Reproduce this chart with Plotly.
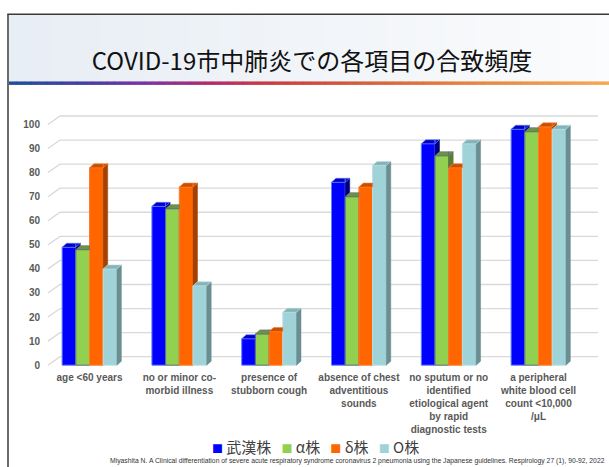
import html
import plotly.graph_objects as go

# ---------------- data ----------------
category_lines = [
    ["age <60 years"],
    ["no or minor co-", "morbid illness"],
    ["presence of", "stubborn cough"],
    ["absence of chest", "adventitious", "sounds"],
    ["no sputum or no", "identified", "etiological agent", "by rapid", "diagnostic tests"],
    ["a peripheral", "white blood cell", "count <10,000", "/μL"],
]
series_names = ["武漢株", "α株", "δ株", "O株"]
wuhan = [49, 66, 11, 76, 92, 98]
alpha = [48, 65, 13, 70, 87, 97]
delta = [82, 74, 14, 74, 82, 99]
omicron = [40, 33, 22, 83, 92, 98]
y_ticks = [0, 10, 20, 30, 40, 50, 60, 70, 80, 90, 100]

title_text = "COVID-19市中肺炎での各項目の合致頻度"
citation = ("Miyashita N. A Clinical differentiation of severe acute respiratory syndrome "
            "coronavirus 2 pneumonia using the Japanese guidelines. Respirology 27 (1), 90-92, 2022")

# ---------------- style ----------------
values = [wuhan, alpha, delta, omicron]
front_colors = ["#0000ff", "#92d050", "#ff6600", "#9fd3d8"]
outline_colors = ["#6080ff", "#5c6a80", "#ff7a2a", "#b8e0e4"]
side_colors = ["#00007c", "#5c7d32", "#a44100", "#6a8e92"]
top_colors = ["#0000c8", "#6e9340", "#c95000", "#86b3b8"]

W, H = 609, 467
L, R, T, B = 44, 9, 109.5, 96.5
PW, PH = W - L - R, H - T - B
X_PX0, X_STEP = 89.5, 89.8          # pixel of category 0 and spacing
xr_lo = (L - X_PX0) / X_STEP
xr_hi = (W - R - X_PX0) / X_STEP
y_lo, y_hi = -2, 106
px_per_unit = PH / (y_hi - y_lo)

bargap = 0.39
bw = (1 - bargap) / 4
ddx = 4.5 / X_STEP                   # bar depth
ddy = 4.0 / px_per_unit
wdx = 12 / X_STEP                    # wall depth
wdy = 8.5 / px_per_unit
wall_x0 = (48 - X_PX0) / X_STEP
wall_x1 = (598 - X_PX0) / X_STEP


def pxx(px):
    return (px - L) / PW


def pxy(py):
    return (H - B - py) / PH


def clip(poly, a, b, c):
    out = []
    n = len(poly)
    for k in range(n):
        P, Q = poly[k], poly[(k + 1) % n]
        fp = a * P[0] + b * P[1] + c
        fq = a * Q[0] + b * Q[1] + c
        if fp >= 0:
            out.append(P)
        if (fp >= 0) != (fq >= 0):
            t = fp / (fp - fq)
            out.append((P[0] + t * (Q[0] - P[0]), P[1] + t * (Q[1] - P[1])))
    return out


def add_polys(xs, ys, poly):
    if len(poly) >= 3:
        for p in poly:
            xs.append(p[0])
            ys.append(p[1])
        xs.append(poly[0][0])
        ys.append(poly[0][1])
        xs.append(None)
        ys.append(None)


fig = go.Figure()
n_cat = len(category_lines)

for j, vals in enumerate(values):
    sx, sy, tx, ty = [], [], [], []
    for i in range(n_cat):
        v = vals[i]
        xl = i + (j - 2) * bw
        xr = xl + bw
        side = [(xr, 0), (xr + ddx, ddy), (xr + ddx, v + ddy), (xr, v)]
        top = [(xl, v), (xl + ddx, v + ddy), (xr + ddx, v + ddy), (xr, v)]
        if j < len(values) - 1:
            vn = values[j + 1][i]
            a, b, c = -ddy / ddx, 1.0, -vn + xr * ddy / ddx
            add_polys(sx, sy, clip(side, a, b, c))
            add_polys(tx, ty, clip(top, -1, 0, xr))
            add_polys(tx, ty, clip(clip(top, 1, 0, -xr), a, b, c))
        else:
            add_polys(sx, sy, side)
            add_polys(tx, ty, top)
    fig.add_trace(go.Scatter(x=sx, y=sy, mode="lines", fill="toself",
                             fillcolor=side_colors[j], line=dict(color=side_colors[j], width=0.5),
                             hoverinfo="skip", showlegend=False))
    fig.add_trace(go.Scatter(x=tx, y=ty, mode="lines", fill="toself",
                             fillcolor=top_colors[j], line=dict(color=outline_colors[j], width=0.6),
                             hoverinfo="skip", showlegend=False))
    fig.add_trace(go.Bar(x=list(range(n_cat)), y=vals, name=series_names[j],
                         marker=dict(color=front_colors[j],
                                     line=dict(color=outline_colors[j], width=1)),
                         showlegend=False))

shapes = []
# gridlines on the back wall
for t in y_ticks:
    shapes.append(dict(type="path", xref="x", yref="y", layer="below",
                       path=f"M {wall_x0},{t} L {wall_x0 + wdx},{t + wdy} L {wall_x1},{t + wdy}",
                       line=dict(color="#d9d9d9", width=1.3)))

# title band gradient
n_strip = 40
bx0, bx1 = 9, 612
for k in range(n_strip):
    f = k / (n_strip - 1)
    r = int(232 + (251 - 232) * f)
    g = int(238 + (252 - 238) * f)
    bb = int(245 + (253 - 245) * f)
    x0 = bx0 + (bx1 - bx0) * k / n_strip
    x1 = bx0 + (bx1 - bx0) * (k + 1) / n_strip + 0.5
    shapes.append(dict(type="rect", xref="paper", yref="paper", layer="below",
                       x0=pxx(x0), x1=pxx(x1), y0=pxy(80.5), y1=pxy(14),
                       fillcolor=f"rgb({r},{g},{bb})", line=dict(width=0)))

# colored rule under title
stops = [(0.0, (30, 78, 156)), (0.12, (70, 62, 165)), (0.22, (120, 52, 165)),
         (0.33, (175, 45, 110)), (0.43, (200, 60, 70)), (0.58, (210, 95, 60)),
         (0.78, (232, 135, 65)), (1.0, (246, 168, 85))]


def grad(f):
    for (f0, c0), (f1, c1) in zip(stops[:-1], stops[1:]):
        if f0 <= f <= f1:
            u = (f - f0) / (f1 - f0)
            return tuple(int(c0[m] + (c1[m] - c0[m]) * u) for m in range(3))
    return stops[-1][1]


n_rule = 80
for k in range(n_rule):
    f = k / (n_rule - 1)
    c = grad(f)
    x0 = bx0 + (bx1 - bx0) * k / n_rule
    x1 = bx0 + (bx1 - bx0) * (k + 1) / n_rule + 0.5
    shapes.append(dict(type="rect", xref="paper", yref="paper", layer="below",
                       x0=pxx(x0), x1=pxx(x1), y0=pxy(84.3), y1=pxy(80.8),
                       fillcolor=f"rgb({c[0]},{c[1]},{c[2]})", line=dict(width=0)))

# outer frame
shapes.append(dict(type="line", xref="paper", yref="paper", x0=pxx(8), x1=pxx(8),
                   y0=pxy(13.3), y1=pxy(480), line=dict(color="#3a3a3a", width=1.5)))
shapes.append(dict(type="line", xref="paper", yref="paper", x0=pxx(7.3), x1=pxx(620),
                   y0=pxy(13.3), y1=pxy(13.3), line=dict(color="#3a3a3a", width=1.5)))

# legend built from series names and colours
legend_text = "\u00a0\u00a0\u00a0".join(
    f'<span style="color:{c};font-size:11px">■</span>\u00a0{html.escape(n)}'
    for n, c in zip(series_names, front_colors))

annotations = [
    dict(text=legend_text, xref="paper", yref="paper", x=pxx(315), y=pxy(447.5),
         xanchor="center", yanchor="middle", showarrow=False,
         font=dict(family="Noto Sans CJK JP", size=15, color="#404040")),
    dict(text=html.escape(citation), xref="paper", yref="paper", x=pxx(607), y=pxy(461.5),
         xanchor="right", yanchor="middle", showarrow=False,
         font=dict(family="Liberation Sans, Arial", size=6.8, color="#333333")),
]

ticktext = ["<br>".join(html.escape(s) for s in lines) for lines in category_lines]

fig.update_layout(
    template="none",
    width=W, height=H,
    margin=dict(l=L, r=R, t=T, b=B, autoexpand=False),
    paper_bgcolor="white", plot_bgcolor="rgba(0,0,0,0)",
    barmode="group", bargap=bargap, bargroupgap=0,
    title=dict(text=title_text, x=312 / W, xanchor="center", y=(H - 61.5) / H,
               yanchor="middle", font=dict(family="Noto Sans CJK JP", size=24, color="#111111")),
    xaxis=dict(range=[xr_lo, xr_hi], tickvals=list(range(n_cat)), ticktext=ticktext,
               showgrid=False, zeroline=False, showline=False, ticks="", automargin=False,
               tickfont=dict(family="Liberation Sans, Arial", size=10, color="#595959",
                             weight="bold")),
    yaxis=dict(range=[y_lo, y_hi], tickvals=y_ticks, showgrid=False, zeroline=False,
               showline=False, ticks="", automargin=False, ticklabelstandoff=3,
               tickfont=dict(family="Liberation Sans, Arial", size=10, color="#595959",
                             weight="bold")),
    shapes=shapes,
    annotations=annotations,
    showlegend=False,
)

fig.write_html("out.html",
               config={"displayModeBar": False},
               post_script="document.body.style.margin='0';document.body.style.padding='0';"
                           "document.documentElement.style.overflow='hidden';")
